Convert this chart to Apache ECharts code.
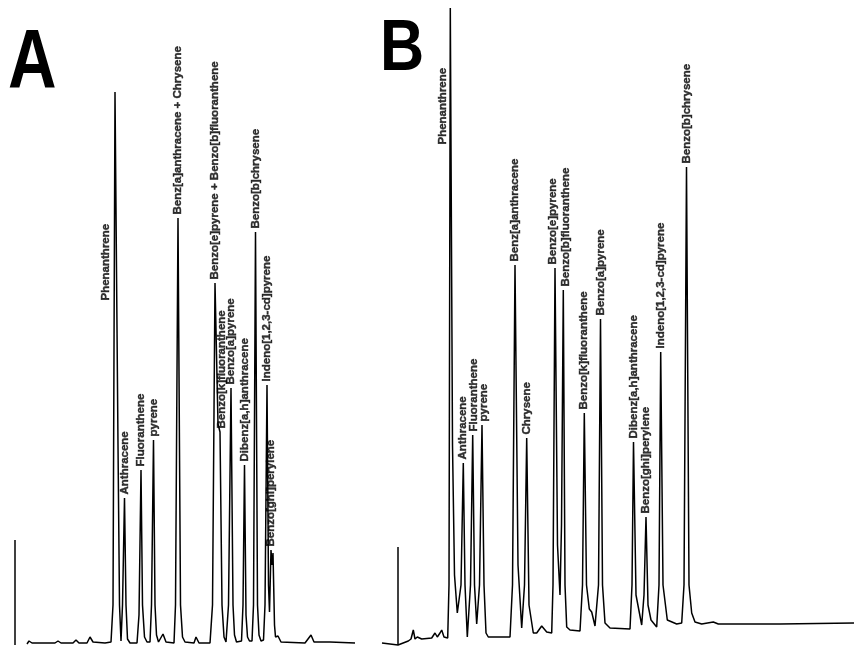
<!DOCTYPE html>
<html>
<head>
<meta charset="utf-8">
<script src="https://cdn.jsdelivr.net/npm/echarts@6/dist/echarts.min.js"></script>
<style>
html,body{margin:0;padding:0;background:#fff;}
#chart{width:854px;height:647px;}
</style>
</head>
<body>
<div id="chart"></div>
<script>
// ---- Panel A: peak identities, retention times (min) and heights (response) ----
var peakNamesA = ['Phenanthrene','Anthracene','Fluoranthene','pyrene','Benz[a]anthracene + Chrysene',
  'Benzo[e]pyrene + Benzo[b]fluoranthene','Benzo[k]fluoranthene','Benzo[a]pyrene',
  'Dibenz[a,h]anthracene','Benzo[b]chrysene','Indeno[1,2,3-cd]pyrene','Benzo[ghi]perylene'];
var peakTimesA = [10.0, 10.95, 12.6, 13.85, 16.3, 20.0, 20.5, 21.6, 22.95, 24.05, 25.2, 25.6];
var peakHeightsA = [553, 147, 175, 205, 427, 362, 213, 257, 180, 413, 260, 95];

// ---- Panel B ----
var peakNamesB = ['Phenanthrene','Anthracene','Fluoranthene','pyrene','Benz[a]anthracene','Chrysene',
  'Benzo[e]pyrene','Benzo[b]fluoranthene','Benzo[k]fluoranthene','Benzo[a]pyrene',
  'Dibenz[a,h]anthracene','Benzo[ghi]perylene','Indeno[1,2,3-cd]pyrene','Benzo[b]chrysene'];
var peakTimesB = [5.23, 6.53, 7.47, 8.4, 11.7, 12.87, 15.7, 16.53, 18.63, 20.25, 23.55, 24.8, 26.27, 28.85];
var peakHeightsB = [637, 182, 210, 220, 380, 207, 377, 355, 232, 326, 203, 128, 293, 478];

// ---- Detector traces: [time, response] ----
var traceA = [
 [1.2,1],[1.4,4],[1.7,2],[4.0,2],[4.3,4],[4.6,2],[5.8,2],[6.1,5],[6.4,2],[7.2,2],[7.5,8],[7.8,3],[9.0,2],[9.6,3],
 [9.8,40],[10.0,553],[10.3,200],[10.45,40],[10.6,4],
 [10.75,40],[10.95,147],[11.1,40],[11.25,6],[11.5,2],
 [12.2,2],[12.4,30],[12.6,175],[12.75,40],[12.95,8],[13.2,3],
 [13.5,3],[13.65,40],[13.85,205],[14.0,40],[14.15,10],[14.35,3],[14.8,11],[15.1,3],
 [15.9,2],[16.05,40],[16.3,427],[16.55,40],[16.75,8],[17.0,3],
 [17.9,2],[18.1,8],[18.4,2],
 [19.5,2],[19.75,40],[20.0,362],[20.3,221],[20.5,213],[20.7,40],[20.9,8],[21.1,3],
 [21.35,40],[21.6,257],[21.8,40],[21.95,10],[22.15,3],
 [22.65,4],[22.8,40],[22.95,180],[23.1,30],[23.25,8],[23.45,4],
 [23.7,4],[23.85,40],[24.05,413],[24.25,40],[24.4,10],[24.6,4],
 [24.85,5],[25.0,40],[25.2,260],[25.35,60],[25.45,33],[25.6,95],[25.7,80],[25.8,92],[25.95,20],[26.05,8],[26.3,9],[26.6,3],
 [29.0,2],[29.6,10],[29.9,3],[31.5,3],[34.0,2]
];
var traceB = [
 [-1.6,2],[0,0],[0.2,1],[1.03,4],[1.3,6],[1.53,15],[1.7,6],[1.93,8],[2.37,6],[3.37,7],[3.7,12],[3.93,8],[4.2,12],[4.37,15],[4.6,8],[4.97,7],
 [5.1,60],[5.23,637],[5.45,200],[5.65,70],[5.93,32],
 [6.3,60],[6.53,182],[6.7,60],[6.93,8],
 [7.25,60],[7.47,210],[7.65,60],[7.87,21],
 [8.15,60],[8.4,220],[8.6,60],[8.8,12],[9.03,8],[11.2,8],
 [11.45,60],[11.7,380],[12.0,80],[12.37,17],
 [12.65,60],[12.87,207],[13.1,40],[13.53,12],[13.87,12],[14.37,19],[14.87,13],[15.37,12],
 [15.5,60],[15.7,377],[15.95,100],[16.2,50],
 [16.35,120],[16.53,355],[16.7,60],[16.87,18],[17.2,15],[18.2,14],
 [18.45,60],[18.63,232],[18.85,60],[19.13,36],[19.37,33],[19.7,19],
 [20.05,60],[20.25,326],[20.45,60],[20.7,22],[21.2,17],[23.2,16],
 [23.4,60],[23.55,203],[23.8,50],[24.37,20],
 [24.6,50],[24.8,128],[25.0,40],[25.3,25],[25.87,18],
 [26.1,60],[26.27,293],[26.5,60],[26.93,25],[27.87,21],[28.37,22],
 [28.6,60],[28.85,478],[29.1,60],[29.37,32],[29.7,23],[30.37,21],[31.53,23],[32.03,21],[38.2,21],[45.6,22]
];
// injection marks: [time, response]
var injectionA = [[0,0],[0,105]];
var injectionB = [[0,0],[0,98]];
var panelLetters = ['A','B'];

// ---------------------------------------------------------------
// label offsets are given in the label's rotated frame: [along text, across text]
var labelOffsets = {
  'A|Phenanthrene': [-212, -9], 'A|Benzo[k]fluoranthene': [0, 2],
  'B|Phenanthrene': [-140, -7], 'B|Fluoranthene': [0, 1], 'B|pyrene': [0, 2],
  'B|Benzo[e]pyrene': [0, -2], 'B|Benzo[b]fluoranthene': [0, 3]
};

function peakPoints(panel, names, times, heights) {
  return names.map(function (n, i) {
    var item = { name: n, value: [times[i], heights[i]] };
    var off = labelOffsets[panel + '|' + n];
    if (off) item.label = { offset: off };
    return item;
  });
}

var font = "'Liberation Sans', Arial, Helvetica, sans-serif";
var lineStyle = { color: '#000', width: 1.5 };
var labelStyle = {
  show: true, position: 'top', distance: 3, rotate: 90,
  align: 'left', verticalAlign: 'middle',
  formatter: '{b}', color: '#000', fontFamily: font, fontWeight: 'bold', fontSize: 11.5,
  textBorderColor: '#000', textBorderWidth: 0.4
};

function hiddenAxis(idx, min, max) {
  return { type: 'value', gridIndex: idx, min: min, max: max, show: false,
           splitLine: { show: false } };
}

var chart = echarts.init(document.getElementById('chart'), null, { renderer: 'canvas' });
chart.setOption({
  animation: false,
  backgroundColor: '#fff',
  grid: [
    { left: 15, width: 340, top: 5, height: 640 },
    { left: 382, width: 472, top: 5, height: 640 }
  ],
  xAxis: [hiddenAxis(0, 0, 34), hiddenAxis(1, -1.6, 45.6)],
  yAxis: [hiddenAxis(0, 0, 640), hiddenAxis(1, 0, 640)],
  graphic: [
    { type: 'text', left: 8, top: 23, scaleX: 0.8, style: { text: panelLetters[0], font: 'bold 84px ' + font, fill: '#000' } },
    { type: 'text', left: 380, top: 14, scaleX: 0.85, style: { text: panelLetters[1], font: 'bold 72px ' + font, fill: '#000' } }
  ],
  series: [
    { type: 'line', xAxisIndex: 0, yAxisIndex: 0, data: traceA, symbol: 'none', lineStyle: lineStyle, silent: true, clip: false },
    { type: 'line', xAxisIndex: 0, yAxisIndex: 0, data: injectionA, symbol: 'none', lineStyle: lineStyle, silent: true },
    { type: 'scatter', xAxisIndex: 0, yAxisIndex: 0, data: peakPoints('A', peakNamesA, peakTimesA, peakHeightsA),
      symbolSize: 1, itemStyle: { color: 'rgba(0,0,0,0)' }, label: labelStyle, silent: true },
    { type: 'line', xAxisIndex: 1, yAxisIndex: 1, data: traceB, symbol: 'none', lineStyle: lineStyle, silent: true, clip: false },
    { type: 'line', xAxisIndex: 1, yAxisIndex: 1, data: injectionB, symbol: 'none', lineStyle: lineStyle, silent: true },
    { type: 'scatter', xAxisIndex: 1, yAxisIndex: 1, data: peakPoints('B', peakNamesB, peakTimesB, peakHeightsB),
      symbolSize: 1, itemStyle: { color: 'rgba(0,0,0,0)' }, label: labelStyle, silent: true }
  ]
});
</script>
</body>
</html>
